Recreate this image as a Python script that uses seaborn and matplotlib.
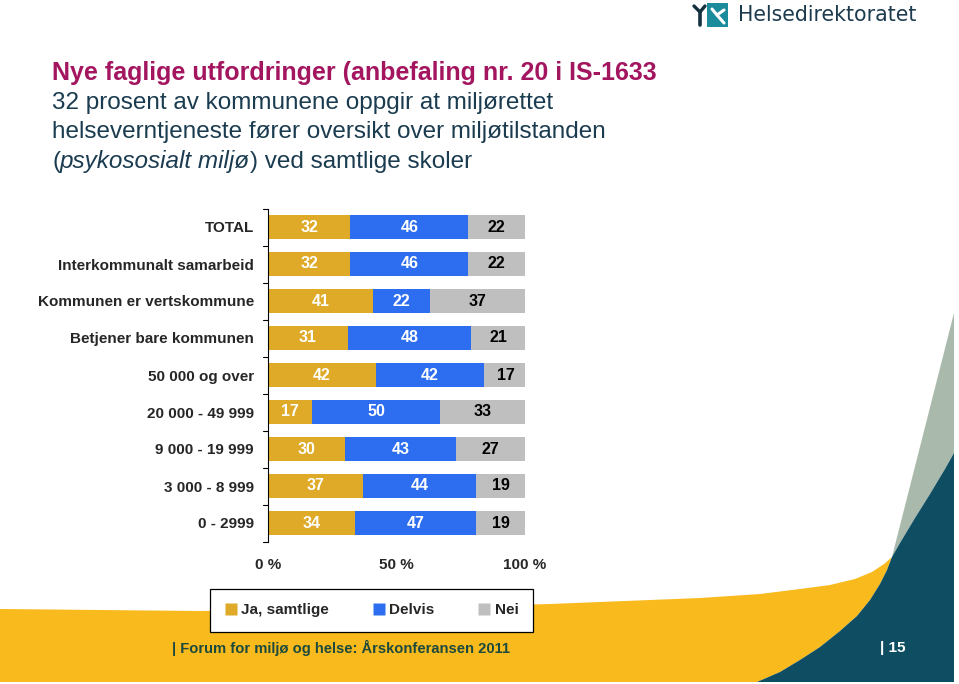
import seaborn as sns
import matplotlib.pyplot as plt
import numpy as np
import pandas as pd
from matplotlib.patches import Polygon, Rectangle
from matplotlib.lines import Line2D

sns.set_theme(style="white")
plt.rcParams['font.family'] = ['Liberation Sans', 'DejaVu Sans']

# data
categories = ['TOTAL', 'Interkommunalt samarbeid', 'Kommunen er vertskommune',
              'Betjener bare kommunen', '50 000 og over', '20 000 - 49 999',
              '9 000 - 19 999', '3 000 - 8 999', '0 - 2999']
ja = [32, 32, 41, 31, 42, 17, 30, 37, 34]
delvis = [46, 46, 22, 48, 42, 50, 43, 44, 47]
nei = [22, 22, 37, 21, 17, 33, 27, 19, 19]
series_names = ['Ja, samtlige', 'Delvis', 'Nei']
x_ticks = [0, 50, 100]
x_tick_labels = ['0 %', '50 %', '100 %']

gold = '#DEAA28'
blue = '#2D6EF0'
grey = '#BFBFBF'

df = pd.DataFrame({'kategori': categories, 'ja': ja, 'delvis': delvis, 'nei': nei})
df['ja_delvis'] = df['ja'] + df['delvis']
df['total'] = df['ja_delvis'] + df['nei']

fig = plt.figure(figsize=(9.59, 6.84), dpi=100)
fig.patch.set_facecolor('white')

# slide background decoration
bg = fig.add_axes([0, 0, 1, 1], zorder=-5)
bg.set_xlim(0, 959)
bg.set_ylim(684, 0)
bg.axis('off')
yellow_top = [(0, 609), (200, 611), (400, 608), (550, 604), (700, 598), (760, 594),
              (800, 589), (830, 585), (855, 579), (872, 572), (884, 564), (892, 557)]
teal_low = [(892, 557), (887, 570), (880, 584), (870, 600), (857, 616), (840, 631),
            (820, 647), (800, 660), (780, 672), (757, 682)]
teal_up = [(954, 453), (945, 469), (930, 494), (915, 518), (900, 543), (892, 557)]
bg.add_patch(Polygon(yellow_top + teal_low[1:] + [(0, 682)], closed=True,
                     facecolor='#F8BA1C', edgecolor='none'))
bg.add_patch(Polygon([(892, 557), (954, 313)] + teal_up[:-1], closed=True,
                     facecolor='#A9B9AB', edgecolor='none'))
bg.add_patch(Polygon(teal_up + teal_low[1:] + [(954, 682)], closed=True,
                     facecolor='#0E4D62', edgecolor='none'))

# logo
bg.add_patch(Rectangle((707, 3), 21, 24, facecolor='#1B8C9C', edgecolor='none'))
bg.plot([712, 717, 724], [9, 15, 23], color='white', lw=2.2, solid_capstyle='round')
bg.plot([717, 724], [15, 10], color='white', lw=2.2, solid_capstyle='round')
bg.plot([694, 700, 705], [6, 12, 6], color='#12303F', lw=2.4, solid_capstyle='round')
bg.plot([700, 700], [12, 25], color='#12303F', lw=2.6, solid_capstyle='round')
bg.text(738, 15, 'Helsedirektoratet', fontsize=14.8, color='#1D3B4F',
        va='center', ha='left', family=['DejaVu Sans'])

# title block
bg.text(52, 73, 'Nye faglige utfordringer (anbefaling nr. 20 i IS-1633', fontsize=18,
        fontweight='bold', color='#A3155F', va='center', ha='left')
txt = '#1B3C50'
bg.text(52, 103, '32 prosent av kommunene oppgir at miljørettet', fontsize=17.5,
        color=txt, va='center', ha='left')
bg.text(52, 132, 'helseverntjeneste fører oversikt over miljøtilstanden', fontsize=17.5,
        color=txt, va='center', ha='left')
p1 = bg.text(52, 162, '(', fontsize=17.5, color=txt, va='center', ha='left')
p2 = bg.annotate('psykososialt miljø', xy=(1, 0), xycoords=p1, va='bottom', ha='left',
                 fontsize=17.5, color=txt, fontstyle='italic')
bg.annotate(') ved samtlige skoler', xy=(1, 0), xycoords=p2, va='bottom', ha='left',
            fontsize=17.5, color=txt)

# footer
bg.text(172, 648, '| Forum for miljø og helse: Årskonferansen 2011', fontsize=10.6,
        fontweight='bold', color='#1D4A3C', va='center', ha='left')
bg.text(880, 648, '| 15', fontsize=11, fontweight='bold', color='white',
        va='center', ha='left')

# chart
ax = fig.add_axes([268 / 959, 1 - 541.5 / 684, 257 / 959, 333 / 684])
ax.patch.set_alpha(0)
sns.barplot(data=df, x='total', y='kategori', color=grey, width=0.65,
            saturation=1, linewidth=0, ax=ax)
sns.barplot(data=df, x='ja_delvis', y='kategori', color=blue, width=0.65,
            saturation=1, linewidth=0, ax=ax)
sns.barplot(data=df, x='ja', y='kategori', color=gold, width=0.65,
            saturation=1, linewidth=0, ax=ax)

for i, row in df.iterrows():
    ax.text(row['ja'] / 2, i, str(row['ja']), ha='center', va='center',
            color='white', fontsize=11.5, fontweight='bold')
    ax.text(row['ja'] + row['delvis'] / 2, i, str(row['delvis']), ha='center',
            va='center', color='white', fontsize=11.5, fontweight='bold')
    ax.text(row['ja_delvis'] + row['nei'] / 2, i, str(row['nei']), ha='center',
            va='center', color='black', fontsize=11.5, fontweight='bold')

ax.set_xlim(0, 100)
ax.set_ylim(len(categories) - 0.5, -0.5)
ax.set_xlabel('')
ax.set_ylabel('')
ax.set_xticks(x_ticks)
ax.set_xticklabels(x_tick_labels, fontsize=11, fontweight='bold')
ax.tick_params(axis='x', length=0, pad=12)
ax.set_yticks(np.arange(len(categories)))
ax.set_yticklabels(categories, fontsize=11, fontweight='bold')
ax.tick_params(axis='y', length=0, pad=10)
for b in np.arange(len(categories) + 1) - 0.5:
    ax.plot([-2, 0], [b, b], color='black', lw=0.8, clip_on=False)
for s in ['top', 'right', 'bottom']:
    ax.spines[s].set_visible(False)
ax.spines['left'].set_color('black')
ax.spines['left'].set_linewidth(0.8)

handles = [Line2D([0], [0], marker='s', linestyle='none', markersize=8,
                  markerfacecolor=c, markeredgecolor='none') for c in (gold, blue, grey)]
leg = fig.legend(handles, series_names, loc='lower left', ncol=3, mode='expand',
                 bbox_to_anchor=(210 / 959, 1 - 632 / 684, 323 / 959, 44 / 684),
                 borderaxespad=0, frameon=True, fancybox=False, edgecolor='black',
                 facecolor='white', framealpha=1, handlelength=0.8, handletextpad=0.3,
                 prop={'weight': 'bold', 'size': 11}, borderpad=0.95)
leg.get_frame().set_linewidth(0.9)

fig.savefig('out.png', dpi=100, facecolor='white')
